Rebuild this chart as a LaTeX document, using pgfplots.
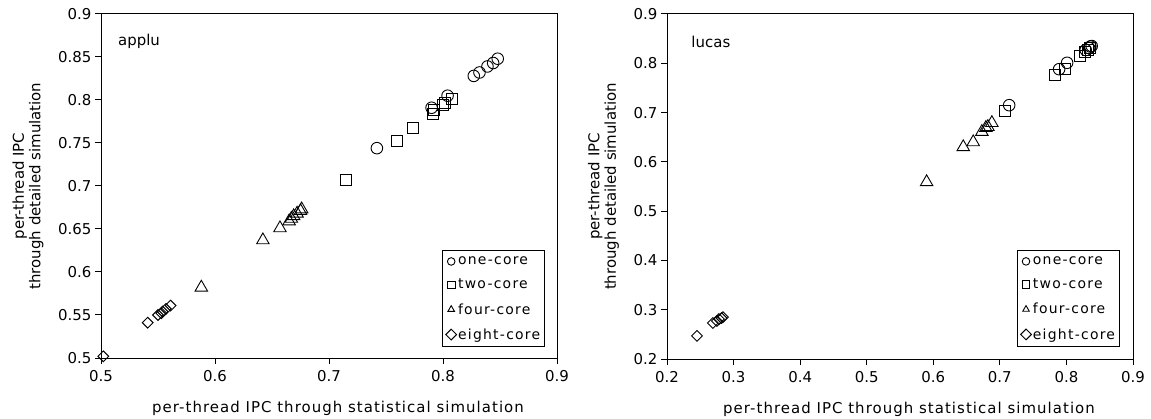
\documentclass[border=0pt]{standalone}
\usepackage{fontspec}
\setmainfont{DejaVu Sans}
\newfontfamily\legfont[LetterSpace=9]{DejaVu Sans}
\newfontfamily\xlabfont[LetterSpace=7]{DejaVu Sans}
\usepackage{pgfplots}
\pgfplotsset{compat=1.18}

\pgfplotstableread{
x y
0.742 0.744
0.790 0.791
0.804 0.805
0.827 0.828
0.832 0.832
0.839 0.839
0.844 0.843
0.848 0.848
}\aOne
\pgfplotstableread{
x y
0.715 0.707
0.760 0.752
0.774 0.767
0.791 0.784
0.792 0.788
0.800 0.794
0.802 0.797
0.808 0.801
}\aTwo
\pgfplotstableread{
x y
0.588 0.582
0.642 0.637
0.657 0.651
0.665 0.659
0.667 0.662
0.669 0.665
0.672 0.668
0.675 0.671
0.676 0.673
}\aFour
\pgfplotstableread{
x y
0.502 0.502
0.541 0.541
0.550 0.550
0.553 0.552
0.554 0.554
0.557 0.557
0.561 0.561
}\aEight

\pgfplotstableread{
x y
0.714 0.715
0.789 0.788
0.801 0.801
0.829 0.827
0.834 0.831
0.836 0.834
0.838 0.835
}\lOne
\pgfplotstableread{
x y
0.708 0.703
0.783 0.776
0.798 0.788
0.820 0.815
0.828 0.823
0.832 0.827
0.835 0.831
}\lTwo
\pgfplotstableread{
x y
0.590 0.559
0.645 0.630
0.660 0.640
0.673 0.661
0.679 0.669
0.682 0.671
0.688 0.679
}\lFour
\pgfplotstableread{
x y
0.245 0.247
0.269 0.273
0.275 0.277
0.278 0.281
0.282 0.283
0.284 0.285
}\lEight

\pgfplotsset{
  myax/.style={
    scale only axis,
    clip=false,
    axis line style={black, line width=1bp},
    tick style={black, line width=1bp},
    tick align=outside,
    major tick length=6bp,
    xtick pos=left, ytick pos=left,
    /pgf/number format/assume math mode=true,
    /pgf/number format/fixed,
    /pgf/number format/precision=2,
    x tick label style={yshift=-3bp},
    xlabel={per-thread IPC through statistical simulation},
    every axis x label/.style={at={(rel axis cs:0.5,0)}, anchor=center, yshift=-50bp, xshift=9bp,
      font=\xlabfont\fontsize{15}{16.5}\selectfont},
    ylabel={per-thread IPC\\through detailed simulation},
    ylabel style={align=center, yshift=8bp},
    legend cell align=left,
    legend style={draw=black, line width=0.8bp, font=\legfont\fontsize{14}{16}\selectfont,
      row sep=11bp, inner xsep=3bp, inner ysep=5bp,
      nodes={inner xsep=1.5bp, inner ysep=1bp}},
    legend image code/.code={\draw[##1, mark size=3.8bp] plot coordinates {(2bp,0bp)};},
  },
  s1/.style={only marks, mark=o, mark size=5.8bp, black, line width=0.9bp},
  s2/.style={only marks, mark=square, mark size=5.5bp, black, line width=0.9bp},
  s4/.style={only marks, mark=triangle, mark size=7.2bp, black, line width=0.9bp},
  s8/.style={only marks, mark=square, mark size=3.8bp, mark options={rotate=45}, black, line width=0.9bp},
}

\begin{document}
\begin{tikzpicture}[font=\fontsize{15}{16.5}\selectfont]
\useasboundingbox (0,0) rectangle (1151bp,419bp);
\begin{axis}[myax,
  at={(101bp,61bp)}, anchor=south west,
  width=456bp, height=344bp,
  xmin=0.5, xmax=0.9, ymin=0.5, ymax=0.9,
  xtick={0.5,0.6,0.7,0.8,0.9},
  ytick={0.5,0.55,0.6,0.65,0.7,0.75,0.8,0.85,0.9},
  legend style={at={(0.974,0.032)}, anchor=south east},
]
\addplot[s1] table {\aOne};
\addlegendentry{one-core}
\addplot[s2] table {\aTwo};
\addlegendentry{two-core}
\addplot[s4] table {\aFour};
\addlegendentry{four-core}
\addplot[s8] table {\aEight};
\addlegendentry{eight-core}
\node[anchor=west] at (rel axis cs:0.03,0.92) {applu};
\end{axis}
\begin{axis}[myax,
  at={(667bp,60bp)}, anchor=south west,
  width=466bp, height=345bp,
  xmin=0.2, xmax=0.9, ymin=0.2, ymax=0.9,
  xtick={0.2,0.3,0.4,0.5,0.6,0.7,0.8,0.9},
  ytick={0.2,0.3,0.4,0.5,0.6,0.7,0.8,0.9},
  legend style={at={(0.972,0.035)}, anchor=south east},
]
\addplot[s1] table {\lOne};
\addlegendentry{one-core}
\addplot[s2] table {\lTwo};
\addlegendentry{two-core}
\addplot[s4] table {\lFour};
\addlegendentry{four-core}
\addplot[s8] table {\lEight};
\addlegendentry{eight-core}
\node[anchor=west] at (rel axis cs:0.045,0.92) {lucas};
\end{axis}
\end{tikzpicture}
\end{document}
